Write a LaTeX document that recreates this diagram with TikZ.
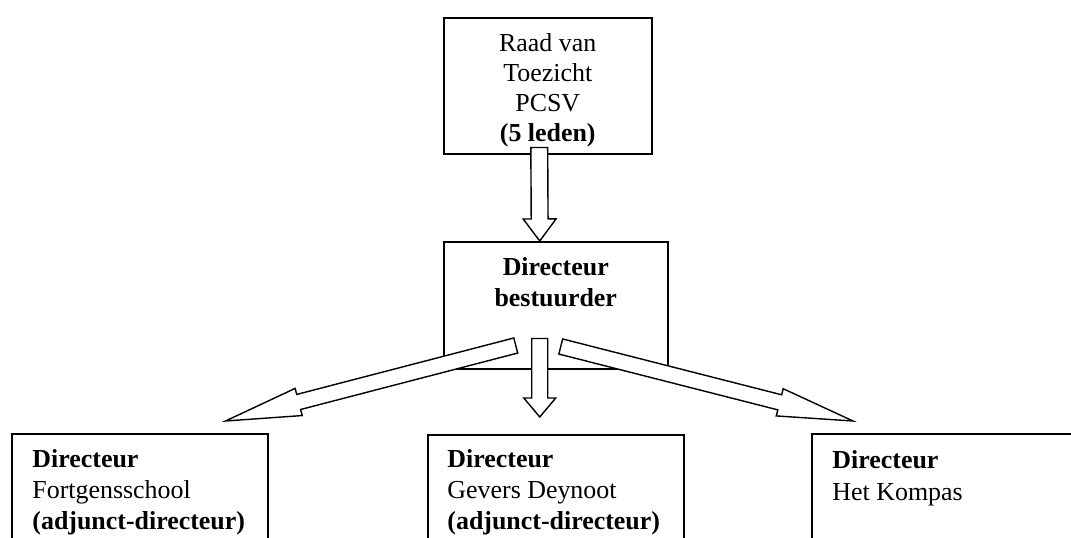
\documentclass[tikz,border=0pt]{standalone}
\usepackage{fontspec}
\setmainfont{Liberation Serif}
\usetikzlibrary{calc}

\tikzset{
  box/.style={draw, line width=0.7pt, rectangle, inner sep=0pt, anchor=north west},
  txt/.style={inner sep=0pt, font=\fontsize{12}{14.4}\selectfont},
  blockarrow/.style={draw, fill=white, line width=0.65pt, line join=miter},
}
\newcommand\pxu{0.463pt}
% #1 start, #2 tip, #3 half shaft, #4 half head, #5 head length
\newcommand\blockarrow[5]{%
  \coordinate (ba-h) at ($(#2)!#5!(#1)$);
  \draw[blockarrow] ($(#1)!#3!90:(#2)$) -- ($(ba-h)!#3!90:(#2)$)
    -- ($(ba-h)!#4!90:(#2)$) -- (#2) -- ($(ba-h)!#4!-90:(#2)$)
    -- ($(ba-h)!#3!-90:(#2)$) -- ($(#1)!#3!-90:(#2)$) -- cycle;
}

\begin{document}
\begin{tikzpicture}[x=0.463pt, y=-0.463pt]
\useasboundingbox (0,0) rectangle (1071,538);
\clip (0,0) rectangle (1071,538);

% boxes
\node[box, minimum width=208*\pxu, minimum height=136*\pxu] (toezicht) at (443,17) {};
\node[box, minimum width=224*\pxu, minimum height=127*\pxu] (bestuurder) at (443,241) {};
\node[box, minimum width=256*\pxu, minimum height=170*\pxu] (fortgens) at (11,433) {};
\node[box, minimum width=256*\pxu, minimum height=170*\pxu] (gevers) at (427,434) {};
\node[box, minimum width=280*\pxu, minimum height=170*\pxu] (kompas) at (811,433) {};

% texts (anchored at the last baseline)
\node[txt, font=\fontsize{12}{13.9}\selectfont, anchor=base, align=center] (toezicht-txt)
  at ($(toezicht.north)+(0,125)$) {Raad van\\Toezicht\\PCSV\\\textbf{(5 leden)}};
\node[txt, font=\fontsize{12}{14.8}\selectfont, anchor=base, align=center] (bestuurder-txt)
  at ($(bestuurder.north)+(0,66)$) {\textbf{Directeur}\\\textbf{bestuurder}};
\node[txt, anchor=base west, align=left] (fortgens-txt) at ($(fortgens.north west)+(21,97)$)
  {\textbf{Directeur}\\Fortgensschool\\\textbf{(adjunct-directeur)}};
\node[txt, anchor=base west, align=left] (gevers-txt) at ($(gevers.north west)+(20,96)$)
  {\textbf{Directeur}\\Gevers Deynoot\\\textbf{(adjunct-directeur)}};
\node[txt, anchor=base west, align=left] (kompas-txt) at ($(kompas.north west)+(21,67)$)
  {\textbf{Directeur}\\Het Kompas};

% arrow ends
\coordinate (a0s) at ($(toezicht.south)+(-8.5,-7)$);
\coordinate (a0t) at ($(bestuurder.north)+(-16,0)$);
\coordinate (a1s) at ($(bestuurder.south)+(-40,-24)$);
\coordinate (a1t) at ($(fortgens.north east)+(-43,-12)$);
\coordinate (a2s) at ($(bestuurder.south)+(-16,-31)$);
\coordinate (a2t) at ($(gevers.north)+(-16,-17)$);
\coordinate (a3s) at ($(bestuurder.south)+(5,-23)$);
\coordinate (a3t) at ($(kompas.north west)+(42,-12)$);

% arrows
\blockarrow{a0s}{a0t}{3.9pt}{7.6pt}{10.2pt}
\blockarrow{a1s}{a1t}{3.6pt}{6.5pt}{35pt}
\blockarrow{a2s}{a2t}{3.7pt}{7.4pt}{8.8pt}
\blockarrow{a3s}{a3t}{3.6pt}{6.5pt}{35pt}
\end{tikzpicture}
\end{document}
